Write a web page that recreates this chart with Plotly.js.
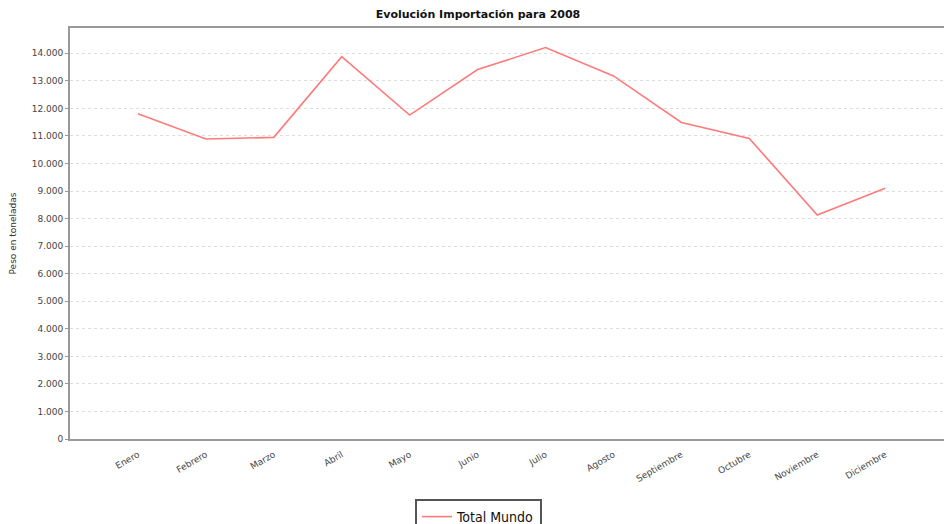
<!DOCTYPE html>
<html>
<head>
<meta charset="utf-8">
<script src="https://cdn.plot.ly/plotly-3.0.1.min.js"></script>
<style>
  html, body { margin: 0; padding: 0; background: #fff; overflow: hidden; }
  #chart { width: 947px; height: 524px; }
</style>
</head>
<body>
<div id="chart"></div>
<script>
// Monthly import weight, 2008 (tonnes)
const months = ['Enero', 'Febrero', 'Marzo', 'Abril', 'Mayo', 'Junio',
  'Julio', 'Agosto', 'Septiembre', 'Octubre', 'Noviembre', 'Diciembre'];
const totalMundo = [11810, 10890, 10950, 13880, 11760, 13410,
  14210, 13180, 11490, 10910, 8130, 9100];
const yTicks = [0, 1000, 2000, 3000, 4000, 5000, 6000, 7000,
  8000, 9000, 10000, 11000, 12000, 13000, 14000];

const tickFont = { family: 'DejaVu Sans, sans-serif', size: 9, color: '#444' };

const data = [{
  x: months,
  y: totalMundo,
  name: 'Total Mundo',
  type: 'scatter',
  mode: 'lines',
  line: { color: '#ff7a7a', width: 1.6 },
  hoverinfo: 'x+y'
}];

// the chart is 3px wider than the window so the right edge of the frame is cut off
const layout = {
  width: 947,
  height: 524,
  margin: { l: 70, r: 0, t: 28, b: 85 },
  paper_bgcolor: '#fff',
  plot_bgcolor: '#fff',
  separators: ',.',
  title: {
    text: '<b>Evolución Importación para 2008</b>',
    font: { family: 'DejaVu Sans, sans-serif', size: 11, color: '#111' },
    xref: 'container',
    x: 478 / 947, xanchor: 'center',
    y: 1 - 14 / 524, yanchor: 'middle'
  },
  xaxis: {
    type: 'category',
    range: [-1.0, 11.91],
    automargin: false,
    tickangle: -30,
    tickfont: tickFont,
    ticklabelstandoff: 5,
    showgrid: false,
    showline: true,
    linecolor: '#999',
    linewidth: 2,
    mirror: true,
    ticks: '',
    zeroline: false
  },
  yaxis: {
    range: [0, 14920],
    automargin: false,
    tickvals: yTicks,
    tickformat: ',d',
    tickfont: tickFont,
    showline: true,
    linecolor: '#999',
    linewidth: 2,
    ticks: 'outside',
    ticklen: 3,
    tickcolor: '#999',
    gridcolor: '#dedede',
    griddash: '3px,3px',
    gridwidth: 1,
    zeroline: false,
    title: {
      text: 'Peso en toneladas',
      font: { family: 'DejaVu Sans, sans-serif', size: 9, color: '#333' },
      standoff: 14
    }
  },
  showlegend: true,
  legend: {
    orientation: 'h',
    xref: 'container',
    yref: 'container',
    x: 478.5 / 947, xanchor: 'center',
    y: 1 - 499 / 524, yanchor: 'top',
    bordercolor: '#555',
    borderwidth: 2,
    bgcolor: '#fff',
    font: { family: 'DejaVu Sans Condensed, DejaVu Sans, sans-serif', size: 14, color: '#111' }
  }
};

Plotly.newPlot('chart', data, layout, { displayModeBar: false, staticPlot: true });
</script>
</body>
</html>
